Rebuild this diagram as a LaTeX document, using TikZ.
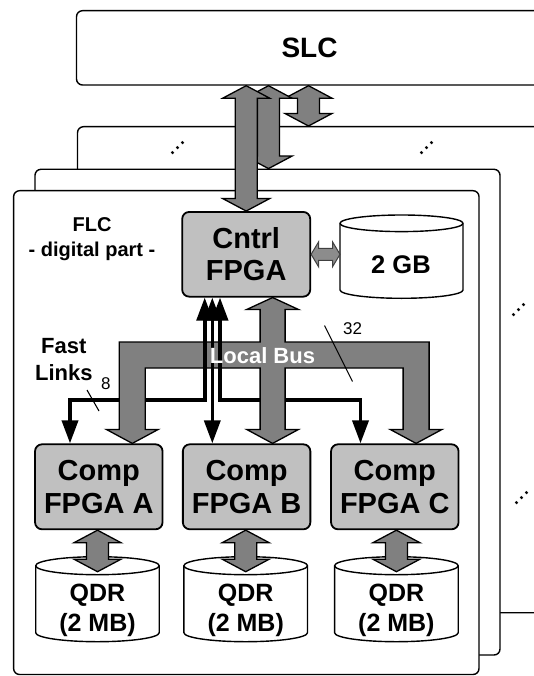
\documentclass[tikz,border=0pt]{standalone}
\usepackage{fontspec}
\setmainfont{Liberation Sans}
\usetikzlibrary{calc,arrows.meta}
\definecolor{boxgray}{RGB}{192,192,192}
\definecolor{arrgray}{RGB}{128,128,128}
\definecolor{gbgray}{RGB}{140,140,140}
\newcommand\myfs[2]{\fontsize{#1}{#2}\selectfont\bfseries}
% vertical fat double arrow: #1 top tip, #2 bottom tip
\newcommand\fatv[2]{%
  \filldraw[fat] ($#1+(-23.5,12.5)$) -- #1 -- ($#1+(23.5,12.5)$) -- ($#1+(11,12.5)$)
   -- ($#2+(11,-12.5)$) -- ($#2+(23.5,-12.5)$) -- #2 -- ($#2+(-23.5,-12.5)$)
   -- ($#2+(-11,-12.5)$) -- ($#1+(-11,12.5)$) -- cycle;}
% horizontal small double arrow: #1 left tip, #2 right tip
\newcommand\fath[2]{%
  \filldraw[gbarrow] #1 -- ($#1+(7.5,-12.5)$) -- ($#1+(7.5,-6)$) -- ($#2+(-7.5,-6)$)
   -- ($#2+(-7.5,-12.5)$) -- #2 -- ($#2+(-7.5,12.5)$) -- ($#2+(-7.5,6)$)
   -- ($#1+(7.5,6)$) -- ($#1+(7.5,12.5)$) -- cycle;}
% cylinder: x0, x1, ytop, ybottom, ry
\newcommand\drawcyl[5]{%
  \pgfmathsetmacro\cylcx{(#1+#2)/2}%
  \pgfmathsetmacro\cylkx{0.5523*(#2-#1)/2}%
  \pgfmathsetmacro\cylky{0.5523*#5}%
  \pgfmathsetmacro\cylyt{#3+#5}%
  \pgfmathsetmacro\cylyb{#4-#5}%
  \filldraw[cylline] (#1,\cylyt) -- (#1,\cylyb)
    .. controls (#1,\cylyb+\cylky) and (\cylcx-\cylkx,#4) .. (\cylcx,#4)
    .. controls (\cylcx+\cylkx,#4) and (#2,\cylyb+\cylky) .. (#2,\cylyb)
    -- (#2,\cylyt)
    .. controls (#2,\cylyt-\cylky) and (\cylcx+\cylkx,#3) .. (\cylcx,#3)
    .. controls (\cylcx-\cylkx,#3) and (#1,\cylyt-\cylky) .. (#1,\cylyt) -- cycle;
  \draw[cylline, fill=none] (#1,\cylyt)
    .. controls (#1,\cylyt+\cylky) and (\cylcx-\cylkx,\cylyt+#5) .. (\cylcx,\cylyt+#5)
    .. controls (\cylcx+\cylkx,\cylyt+#5) and (#2,\cylyt+\cylky) .. (#2,\cylyt);}

\begin{document}
\begin{tikzpicture}[x=1pt,y=-1pt,
  panel/.style={draw=black, line width=1.4pt, fill=white, rounded corners=6pt, inner sep=0pt},
  fpga/.style={draw=black, line width=1.8pt, fill=boxgray, rounded corners=7pt,
    minimum width=127.5pt, minimum height=85pt, inner sep=0pt, align=center, font=\myfs{29}{32.5}},
  fat/.style={fill=arrgray, draw=black, line width=1.3pt, line join=miter},
  gbarrow/.style={fill=gbgray, draw=black!75, line width=1pt, line join=miter},
  cylline/.style={fill=white, draw=black, line width=1.4pt},
  lbl/.style={inner sep=0pt, align=center},
  dotsn/.style={inner sep=0pt, font=\fontsize{25}{25}\selectfont, rotate=45},
  link/.style={line width=3.6pt, line join=miter, >={Triangle[width=16pt,length=23pt]}, <->},
  linkseg/.style={line width=3.6pt},
  tick/.style={line width=1.1pt}
]
\useasboundingbox (0,0) rectangle (534,676);
\clip (0,0) rectangle (534,676);

% stacked FLC boards
\node[panel, minimum width=466pt, minimum height=486pt] (back) at (310.5,369.7) {};
\node[dotsn] (dt1) at (178,148) {...};
\node[dotsn] (dt2) at (427,148) {...};
\node[dotsn] (dt3) at (519,310) {...};
\node[dotsn] (dt4) at (522,498) {...};
\node[panel, minimum width=465pt, minimum height=485.7pt] (mid) at (267.5,412.15) {};
\node[panel, minimum width=465.4pt, minimum height=483.8pt] (front) at (246.3,432.6) {};

% SLC
\node[panel, minimum width=466pt, minimum height=74.3pt, font=\myfs{28}{32}] (slc) at (309.5,47.85) {SLC};

% FPGAs
\node[fpga, minimum width=128pt, minimum height=84.7pt] (cntrl) at (246.2,254.3) {Cntrl\\FPGA};
\node[fpga] (compA) at (98.8,486.8) {Comp\\FPGA A};
\node[fpga] (compB) at (246.6,486.8) {Comp\\FPGA B};
\node[fpga] (compC) at (394.8,486.8) {Comp\\FPGA C};

% SLC links
\coordinate (a2x) at (268.5,0);
\coordinate (a3x) at (308.5,0);
\coordinate (a1t) at (slc.south -| cntrl.north);
\coordinate (a2t) at (a2x |- slc.south);
\coordinate (a2b) at (a2x |- mid.north);
\coordinate (a3t) at (a3x |- slc.south);
\coordinate (a3b) at (a3x |- back.north);
\fatv{(a3t)}{(a3b)}
\fatv{(a2t)}{(a2b)}
\fatv{(a1t)}{(cntrl.north)}

% texts on board
\node[lbl, font=\myfs{20}{25}] (flc) at (92,239.5) {FLC\\- digital part -};
\node[lbl, font=\myfs{22}{27}] (fast) at (63.8,359.3) {Fast\\Links};

% memories
\drawcyl{340}{463}{215}{298.3}{8.3}
\node[lbl, font=\myfs{25.5}{30}] (gb) at (401,264.5) {2 GB};
\drawcyl{35.7}{159.2}{556.7}{641.7}{9}
\drawcyl{183.9}{307.5}{556.7}{641.7}{9}
\drawcyl{334.6}{458.2}{556.7}{641.7}{9}
\node[lbl, font=\myfs{25}{30}] (qA) at (97.5,610.5) {QDR\\(2 MB)};
\node[lbl, font=\myfs{25}{30}] (qB) at (245.7,610.5) {QDR\\(2 MB)};
\node[lbl, font=\myfs{25}{30}] (qC) at (396.4,610.5) {QDR\\(2 MB)};

% Cntrl <-> 2 GB
\coordinate (gbx) at (340,0);
\coordinate (gbw) at (cntrl.east -| gbx);
\fath{(cntrl.east)}{(gbw)}

% Comp <-> QDR
\coordinate (qAt) at ($(qA)+(0,-38.8)$);
\coordinate (qBt) at ($(qB)+(0,-38.8)$);
\coordinate (qCt) at ($(qC)+(0,-38.8)$);
\coordinate (qAs) at (compA.south -| qA);
\coordinate (qBs) at (compB.south -| qB);
\coordinate (qCs) at (compC.south -| qC);
\fatv{(qAs)}{(qAt)}
\fatv{(qBs)}{(qBt)}
\fatv{(qCs)}{(qCt)}

% fast links
\coordinate (flh) at (0,400);
\coordinate (fl1t) at ($(cntrl.south)+(-41.5,0)$);
\coordinate (fl2t) at ($(cntrl.south)+(-33.9,0)$);
\coordinate (fl3t) at ($(cntrl.south)+(-26.2,0)$);
\coordinate (fl1b) at ($(compA.north)+(-28.8,0)$);
\coordinate (fl2b) at (fl2t |- compB.north);
\coordinate (fl3b) at ($(compC.north)+(-34.3,0)$);
\draw[link] (fl1t) -- (fl1t |- flh) -| (fl1b);
\draw[link] (fl2t) -- (fl2b);
\draw[link] (fl3t) -- (fl3t |- flh) -| (fl3b);

% local bus
\coordinate (bt) at (0,342);
\coordinate (bb) at (0,368);
\coordinate (L) at ($(compA.north)+(33.5,0)$);
\coordinate (M) at ($(compB.north)+(26,0)$);
\coordinate (R) at ($(compC.north)+(21.3,0)$);
\coordinate (T) at (M |- cntrl.south);
\coordinate (Lt) at (L |- bt);
\coordinate (Mt) at (M |- bt);
\coordinate (Rt) at (R |- bt);
\coordinate (Lb) at (L |- bb);
\coordinate (Mb) at (M |- bb);
\coordinate (Rb) at (R |- bb);
\filldraw[fat] ($(Lt)+(-13,0)$) -- ($(Mt)+(-12.5,0)$) -- ($(T)+(-12.5,12)$) -- ($(T)+(-26,12)$)
  -- (T) -- ($(T)+(26,12)$) -- ($(T)+(12.5,12)$) -- ($(Mt)+(12.5,0)$) -- ($(Rt)+(13,0)$)
  -- ($(R)+(13,-14)$) -- ($(R)+(26,-14)$) -- (R) -- ($(R)+(-26,-14)$) -- ($(R)+(-13,-14)$)
  -- ($(Rb)+(-13,0)$) -- ($(Mb)+(12.5,0)$) -- ($(M)+(12.5,-14)$) -- ($(M)+(26,-14)$)
  -- (M) -- ($(M)+(-26,-14)$) -- ($(M)+(-12.5,-14)$) -- ($(Mb)+(-12.5,0)$)
  -- ($(Lb)+(13,0)$) -- ($(L)+(13,-14)$) -- ($(L)+(26,-14)$) -- (L)
  -- ($(L)+(-26,-14)$) -- ($(L)+(-13,-14)$) -- cycle;
% fast links cross over the bus bar
\draw[linkseg] ($(fl1t |- bt)+(0,-3)$) -- ($(fl1t |- bb)+(0,3)$);
\draw[linkseg] ($(fl2t |- bt)+(0,-3)$) -- ($(fl2t |- bb)+(0,3)$);
\draw[linkseg] ($(fl3t |- bt)+(0,-3)$) -- ($(fl3t |- bb)+(0,3)$);
\node[lbl, font=\myfs{22}{26}, text=white] (busl) at (262.5,355.5) {Local Bus};

% width marks
\draw[tick] (87,390) -- (99,411);
\node[lbl, font=\fontsize{17}{20}\selectfont] (n8) at (105.8,383.3) {8};
\draw[tick] (324.5,325.5) -- (352.5,381.5);
\node[lbl, font=\fontsize{17}{20}\selectfont] (n32) at (352.5,329) {32};
\end{tikzpicture}
\end{document}
